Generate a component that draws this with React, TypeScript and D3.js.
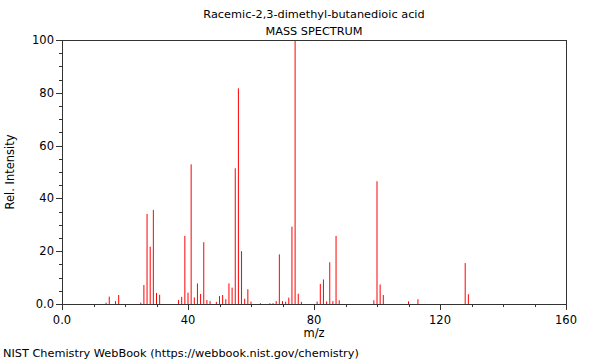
import React from "react";
import * as d3 from "d3";

const mz = [14, 15, 17, 18, 25, 26, 27, 28, 29, 30, 31, 37, 38, 39, 40, 41, 42, 43, 44, 45, 46, 47, 49, 50, 51, 52, 53, 54, 55, 56, 57, 58, 59, 60, 63, 66, 67, 68, 69, 70, 71, 72, 73, 74, 75, 76, 81, 82, 83, 84, 85, 86, 87, 88, 99, 100, 101, 102, 110, 113, 128, 129];
const intensity = [0.5, 2.8, 1.1, 3.4, 0.5, 7.2, 34.1, 21.7, 35.6, 4.2, 3.5, 1.5, 2.7, 25.8, 4.3, 52.9, 2.5, 7.8, 3.8, 23.4, 1.5, 1.1, 0.8, 3.0, 3.4, 1.8, 7.8, 6.2, 51.4, 81.7, 20.0, 2.0, 5.6, 0.9, 0.3, 0.3, 0.3, 1.1, 18.8, 1.1, 0.9, 2.4, 29.3, 100, 3.9, 0.8, 0.9, 7.6, 9.3, 1.0, 15.8, 1.1, 25.8, 1.4, 1.4, 46.5, 7.4, 3.4, 1.0, 1.8, 15.5, 3.7];
const xTickLabels = ["0.0", "40", "80", "120", "160"];
const yTickLabels = ["0.0", "20", "40", "60", "80", "100"];
const title = "Racemic-2,3-dimethyl-butanedioic acid";
const subtitle = "MASS SPECTRUM";
const footer = "NIST Chemistry WebBook (https://webbook.nist.gov/chemistry)";

export default function App() {
  const W = 600, H = 360;
  const left = 62, right = 566, top = 40, bottom = 304;
  const x = d3.scaleLinear().domain([0, 160]).range([left, right]);
  const y = d3.scaleLinear().domain([0, 100]).range([bottom, top]);
  const font = "DejaVu Sans, sans-serif";
  const xMinor = d3.range(0, 161, 10);
  const yMinor = d3.range(0, 101, 5);
  const xMajor = [0, 40, 80, 120, 160];
  const yMajor = [0, 20, 40, 60, 80, 100];
  return (
    <svg width={W} height={H} style={{ position: "absolute", left: 0, top: 0, background: "#fff" }} fontFamily={font}>
      <text x={314} y={18} fontSize={11.3} textAnchor="middle" fill="#000">{title}</text>
      <text x={314} y={35} fontSize={11.3} textAnchor="middle" fill="#000">{subtitle}</text>
      {mz.map((m, i) => (
        <line key={i} x1={x(m)} x2={x(m)} y1={y(0)} y2={y(intensity[i])} stroke="#ff0000" strokeWidth={1} />
      ))}
      <rect x={left} y={top} width={right - left} height={bottom - top} fill="none" stroke="#333" strokeWidth={1} shapeRendering="crispEdges" />
      {xMinor.map((v) => (
        <line key={"xm" + v} x1={Math.round(x(v)) + 0.5} x2={Math.round(x(v)) + 0.5} y1={bottom} y2={bottom + (xMajor.includes(v) ? 6 : 3)} stroke="#333" />
      ))}
      {yMinor.map((v) => (
        <line key={"ym" + v} x1={left - (yMajor.includes(v) ? 6 : 3)} x2={left} y1={Math.round(y(v)) + 0.5} y2={Math.round(y(v)) + 0.5} stroke="#333" />
      ))}
      {xMajor.map((v, i) => (
        <text key={"xl" + v} x={x(v)} y={bottom + 20} fontSize={11.5} textAnchor="middle" fill="#000">{xTickLabels[i]}</text>
      ))}
      {yMajor.map((v, i) => (
        <text key={"yl" + v} x={left - 8} y={y(v) + 4} fontSize={11.5} textAnchor="end" fill="#000">{yTickLabels[i]}</text>
      ))}
      <text x={314} y={337} fontSize={11.5} textAnchor="middle" fill="#000">m/z</text>
      <text transform={`translate(14,${(top + bottom) / 2}) rotate(-90)`} fontSize={11.5} textAnchor="middle" fill="#000">Rel. Intensity</text>
      <text x={3} y={357} fontSize={11.3} fill="#000">{footer}</text>
    </svg>
  );
}
